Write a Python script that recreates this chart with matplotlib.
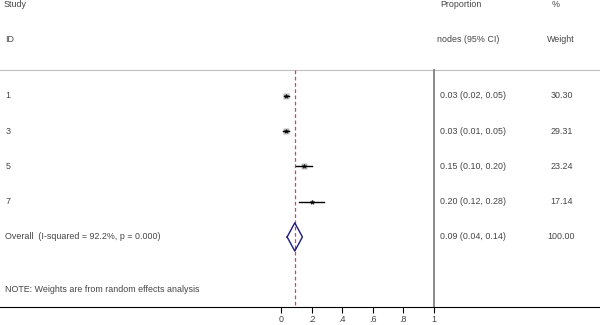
import matplotlib
matplotlib.use('Agg')
import matplotlib.pyplot as plt

plt.rcParams['font.family'] = ['Liberation Sans', 'DejaVu Sans']

# study rows
study_ids = ['1', '3', '5', '7']
prop = [0.03, 0.03, 0.15, 0.20]
ci_lo = [0.02, 0.01, 0.10, 0.12]
ci_hi = [0.05, 0.05, 0.20, 0.28]
weights = [30.30, 29.31, 23.24, 17.14]

# pooled estimate
overall_est = 0.09
overall_lo = 0.04
overall_hi = 0.14
overall_label = 'Overall  (I-squared = 92.2%, p = 0.000)'
note = 'NOTE: Weights are from random effects analysis'

xticks = [0, 0.2, 0.4, 0.6, 0.8, 1.0]
xtick_labels = ['0', '.2', '.4', '.6', '.8', '1']

fs = 6.4
tc = '#444444'

fig = plt.figure(figsize=(6, 3.25), dpi=100)
ax = fig.add_axes([0, 18 / 325, 1, 307 / 325])
# 0 -> px 281, 1 -> px 434
ax.set_xlim(-281 / 153, 319 / 153)
ax.set_ylim(5.986, -2.72)
for s in ['top', 'left', 'right']:
    ax.spines[s].set_visible(False)
ax.spines['bottom'].set_linewidth(0.8)
ax.set_yticks([])
ax.set_xticks(xticks)
ax.set_xticklabels(xtick_labels, fontsize=fs, color=tc)
ax.tick_params(axis='x', direction='out', length=4, width=0.8, pad=2)

xt = ax.get_yaxis_transform()  # x in axes coords, y in data

# headers
ax.text(0.006, -2.58, 'Study', transform=xt, fontsize=fs, color=tc, va='center')
ax.text(0.008, -1.6, 'ID', transform=xt, fontsize=fs, color=tc, va='center')
ax.text(0.733, -2.58, 'Proportion', transform=xt, fontsize=fs, color=tc, va='center')
ax.text(0.728, -1.6, 'nodes (95% CI)', transform=xt, fontsize=fs, color=tc, va='center')
ax.text(0.92, -2.58, '%', transform=xt, fontsize=fs, color=tc, va='center')
ax.text(0.911, -1.6, 'Weight', transform=xt, fontsize=fs, color=tc, va='center')
ax.axhline(-0.74, color='#c0c0c0', lw=0.8)

# vertical reference lines
ax.plot([1, 1], [-0.74, 5.986], color='#808080', lw=1.3)
ax.plot([overall_est, overall_est], [-0.74, 5.986], color='#cc4466',
        lw=0.9, ls=(0, (3, 2)))

for i in range(len(study_ids)):
    y = i
    ax.text(0.009, y, study_ids[i], transform=xt, fontsize=fs, color=tc, va='center')
    ax.plot([ci_lo[i], ci_hi[i]], [y, y], color='black', lw=1.0, zorder=3)
    ms = weights[i] * 0.16
    ax.plot(prop[i], y, marker='s', ms=ms, color='#b8b8b8', mec='none', zorder=2)
    ax.plot(prop[i], y, marker='*', ms=3.2, color='black', mew=0.3, zorder=4)
    txt = '%.2f (%.2f, %.2f)' % (prop[i], ci_lo[i], ci_hi[i])
    ax.text(0.733, y, txt, transform=xt, fontsize=fs, color=tc, va='center')
    ax.text(0.955, y, '%.2f' % weights[i], transform=xt, fontsize=fs, color=tc,
            va='center', ha='right')

# overall diamond
yo = len(study_ids)
ax.plot([overall_lo, overall_est, overall_hi, overall_est, overall_lo],
        [yo, yo - 0.4, yo, yo + 0.4, yo], color='#1a1a80', lw=1.0, zorder=3)
ax.text(0.009, yo, overall_label, transform=xt, fontsize=fs, color=tc, va='center')
txt = '%.2f (%.2f, %.2f)' % (overall_est, overall_lo, overall_hi)
ax.text(0.733, yo, txt, transform=xt, fontsize=fs, color=tc, va='center')
ax.text(0.958, yo, '100.00', transform=xt, fontsize=fs, color=tc, va='center', ha='right')

ax.text(0.009, 5.5, note, transform=xt, fontsize=fs, color=tc, va='center')

fig.savefig('out.png', dpi=100)
